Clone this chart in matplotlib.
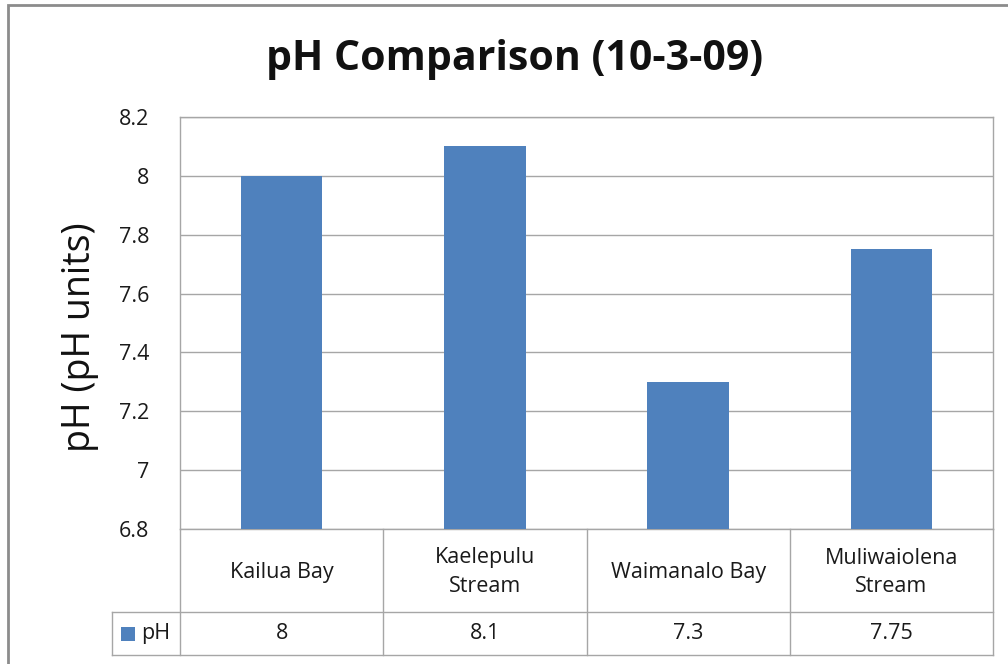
import matplotlib
matplotlib.use("Agg")
import matplotlib.pyplot as plt
from matplotlib.patches import Rectangle
from matplotlib.lines import Line2D
import matplotlib.transforms as mtransforms

plt.rcParams['font.family'] = ['Open Sans', 'DejaVu Sans']

categories = ["Kailua Bay", "Kaelepulu\nStream", "Waimanalo Bay", "Muliwaiolena\nStream"]
values = [8.0, 8.1, 7.3, 7.75]
value_labels = ["8", "8.1", "7.3", "7.75"]
series_name = "pH"
yticks = [6.8, 7.0, 7.2, 7.4, 7.6, 7.8, 8.0, 8.2]
ytick_labels = ["6.8", "7", "7.2", "7.4", "7.6", "7.8", "8", "8.2"]

W, H = 1008, 664
fig = plt.figure(figsize=(W / 100, H / 100), dpi=100)
fig.patch.set_facecolor("white")

# axes in pixel coordinates
left, right, top, bottom = 180, 993, 117, 529
ax = fig.add_axes([left / W, 1 - bottom / H, (right - left) / W, (bottom - top) / H])

bar_color = "#4F81BD"
grid_color = "#A6A6A6"
text_color = "#1a1a1a"
x = list(range(len(categories)))
ax.bar(x, values, width=0.4, color=bar_color, zorder=3)
ax.set_xlim(-0.5, len(categories) - 0.5)
ax.set_ylim(6.8, 8.2)
ax.set_yticks(yticks)
ax.set_yticklabels(ytick_labels, fontsize=15.5, color=text_color)
ax.set_xticks([])
ax.tick_params(axis="y", length=0, pad=22)
ax.yaxis.grid(True, color=grid_color, linewidth=1.0, zorder=0)
for s in ax.spines.values():
    s.set_color(grid_color)
    s.set_linewidth(1.0)

fig.text(80 / W, 1 - 337 / H, "pH (pH units)", rotation=90, ha="center", va="center",
         fontsize=27, color="#111111")
fig.text(515 / W, 1 - 60 / H, "pH Comparison (10-3-09)", ha="center", va="center",
         fontsize=29.5, fontweight="bold", color="#111111")

# data table below axes (x in data, y in axes fraction)
trans = mtransforms.blended_transform_factory(ax.transData, ax.transAxes)
axh = bottom - top
row1 = -(612 - bottom) / axh
row2 = -(655 - bottom) / axh
px = (right - left) / len(categories)
leg_left = -0.5 - (left - 112) / px
lc = grid_color
lw = 1.0

def line(xs, ys):
    ax.add_line(Line2D(xs, ys, transform=trans, color=lc, linewidth=lw, clip_on=False))

n = len(categories)
for i in range(n + 1):
    line([i - 0.5, i - 0.5], [0, row2])
line([leg_left, n - 0.5], [row1, row1])
line([leg_left, n - 0.5], [row2, row2])
line([leg_left, leg_left], [row1, row2])

for i, (c, v) in enumerate(zip(categories, value_labels)):
    ax.text(i, row1 / 2 - 2 / axh, c, transform=trans, ha="center", va="center", fontsize=15.5,
            color=text_color, linespacing=1.5, clip_on=False)
    ax.text(i, (row1 + row2) / 2, v, transform=trans, ha="center", va="center",
            fontsize=15.5, color=text_color, clip_on=False)

# legend key in table
key_px = 14
kx = leg_left + 9 / px
ky = (row1 + row2) / 2
ax.add_patch(Rectangle((kx, ky - (key_px / 2) / axh), key_px / px, key_px / axh,
                       transform=trans, facecolor=bar_color, edgecolor="none", clip_on=False))
ax.text(kx + (key_px + 6) / px, ky, series_name, transform=trans, ha="left", va="center",
        fontsize=15.5, color=text_color, clip_on=False)

# outer chart border
fig.add_artist(Rectangle((8 / W, -0.1), 1.2, 1 - 5 / H + 0.1, transform=fig.transFigure,
                         facecolor="none", edgecolor="#8C8C8C", linewidth=2.0))

fig.savefig("out.png", dpi=100, facecolor="white")
